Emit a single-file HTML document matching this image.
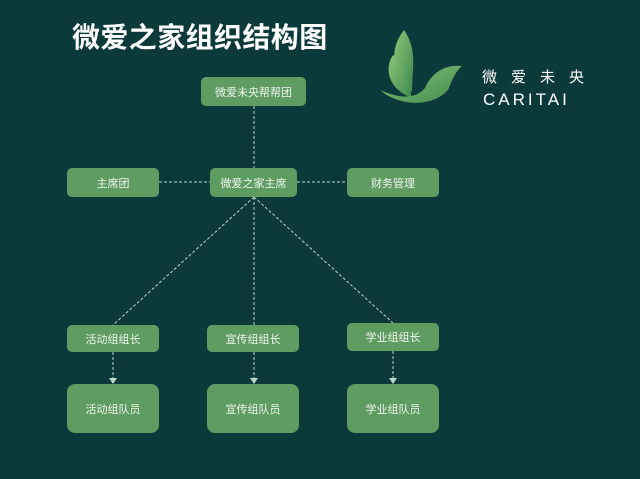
<!DOCTYPE html>
<html><head><meta charset="utf-8"><style>
body{margin:0;width:640px;height:479px;background:#0c3a3a;overflow:hidden;position:relative;font-family:"Liberation Sans","Noto Sans CJK SC",sans-serif}
.b{position:absolute;background:#5e9c62;border-radius:5px;color:#eef5ee;font-size:11px;display:flex;align-items:center;justify-content:center}
.t{position:absolute;left:72px;top:16px;color:#fff;font-size:28px;font-weight:bold;letter-spacing:0.4px}
</style></head><body>
<div class="t">微爱之家组织结构图</div>
<svg width="640" height="479" style="position:absolute;left:0;top:0">
<defs><linearGradient id="g" x1="0" y1="0" x2="1" y2="1"><stop offset="0" stop-color="#8cc478"/><stop offset="1" stop-color="#3e8a4e"/></linearGradient></defs>
<path d="M404 30 C388 50 392 78 412 92 C412 70 418 50 404 30Z" fill="url(#g)"/>
<path d="M393 55 C383 70 390 90 412 98 C408 80 405 66 393 55Z" fill="url(#g)"/>
<path d="M380 90 C398 106 432 108 448 90 C452 80 455 72 462 66 C446 64 432 72 425 88 C415 100 398 98 380 90Z" fill="url(#g)"/>
<text x="482" y="82" fill="#fff" font-size="15" letter-spacing="14" font-family="Noto Sans CJK SC,sans-serif">微爱未央</text>
<text x="483" y="105" fill="#fff" font-size="17" letter-spacing="3" font-family="Liberation Sans,sans-serif">CARITAI</text>
<g stroke="#b8d8cc" stroke-width="1" stroke-dasharray="3,2" fill="none">
<line x1="254" y1="106" x2="254" y2="168"/>
<line x1="159" y1="182" x2="210" y2="182"/>
<line x1="297" y1="182" x2="347" y2="182"/>
<line x1="254" y1="197" x2="113" y2="325"/>
<line x1="254" y1="197" x2="393" y2="323"/>
<line x1="254" y1="197" x2="254" y2="380"/>
<line x1="113" y1="352" x2="113" y2="380"/>
<line x1="393" y1="351" x2="393" y2="380"/>
</g>
<g fill="#b8d8cc"><path d="M250 378 L254 384 L258 378Z"/><path d="M109 378 L113 384 L117 378Z"/><path d="M389 378 L393 384 L397 378Z"/></g>
</svg>
<div class="b" style="left:201px;top:77px;width:105px;height:29px">微爱未央帮帮团</div>
<div class="b" style="left:67px;top:168px;width:92px;height:29px">主席团</div>
<div class="b" style="left:210px;top:168px;width:87px;height:29px">微爱之家主席</div>
<div class="b" style="left:347px;top:168px;width:92px;height:29px">财务管理</div>
<div class="b" style="left:67px;top:325px;width:92px;height:27px">活动组组长</div>
<div class="b" style="left:207px;top:325px;width:92px;height:27px">宣传组组长</div>
<div class="b" style="left:347px;top:323px;width:92px;height:28px">学业组组长</div>
<div class="b" style="left:67px;top:384px;width:92px;height:49px;border-radius:8px">活动组队员</div>
<div class="b" style="left:207px;top:384px;width:92px;height:49px;border-radius:8px">宣传组队员</div>
<div class="b" style="left:347px;top:384px;width:92px;height:49px;border-radius:8px">学业组队员</div>
</body></html>
